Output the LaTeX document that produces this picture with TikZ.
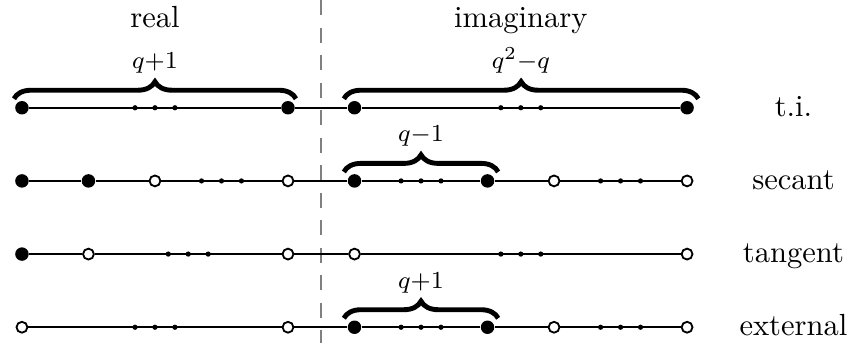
\documentclass[tikz,border=0pt]{standalone}
\usepackage{amsmath}
\usepackage{tikz}
\usetikzlibrary{decorations.pathreplacing}

\begin{document}
\begin{tikzpicture}[x=0.765cm,y=0.765cm,
  full/.style={circle,fill=black,inner sep=0pt,minimum size=0.155cm},
  hollow/.style={circle,draw=black,fill=white,semithick,inner sep=0pt,minimum size=0.125cm},
  dotp/.style={circle,fill=black,inner sep=0pt,minimum size=0.06cm},
  lbl/.style={anchor=base,inner sep=0pt},
  brc/.style={decorate,decoration={brace,amplitude=5.6pt},line width=1.6pt},
  blbl/.style={anchor=base,inner sep=0pt,font=\footnotesize}]
\useasboundingbox (-0.33,-3.53) rectangle (12.48,1.62);
\draw[gray,semithick,dash pattern=on 5pt off 4pt] (4.5,1.62) -- (4.5,-3.53);
\node[lbl] (hreal) at (2,1.2) {real};
\node[lbl] (himag) at (7.5,1.2) {imaginary};
% t.i. row
\node[full] (a0) at (0,0) {};
\node[full] (a1) at (4,0) {};
\node[full] (a2) at (5,0) {};
\node[full] (a3) at (10,0) {};
\node[dotp] (a4) at (1.7,0) {};
\node[dotp] (a5) at (2.0,0) {};
\node[dotp] (a6) at (2.3,0) {};
\node[dotp] (a7) at (7.2,0) {};
\node[dotp] (a8) at (7.5,0) {};
\node[dotp] (a9) at (7.8,0) {};
\draw[semithick] (a0)--(a1)--(a2)--(a3);
\draw[brc] ([shift={(-0.12,0.135)}]a0.center) -- ([shift={(0.12,0.135)}]a1.center);
\draw[brc] ([shift={(-0.16,0.135)}]a2.center) -- ([shift={(0.17,0.135)}]a3.center);
\node[blbl] (la0) at (2,0.59) {$q{+}1$};
\node[blbl] (la1) at (7.5,0.59) {$q^2{-}q$};
\node[lbl] (ta) at (11.6,-0.13) {t.i.};
% secant row
\node[full] (b0) at (0,-1.1) {};
\node[full] (b1) at (1,-1.1) {};
\node[hollow] (b2) at (2,-1.1) {};
\node[hollow] (b3) at (4,-1.1) {};
\node[full] (b4) at (5,-1.1) {};
\node[full] (b5) at (7,-1.1) {};
\node[hollow] (b6) at (8,-1.1) {};
\node[hollow] (b7) at (10,-1.1) {};
\node[dotp] (b8) at (2.7,-1.1) {};
\node[dotp] (b9) at (3.0,-1.1) {};
\node[dotp] (b10) at (3.3,-1.1) {};
\node[dotp] (b11) at (5.7,-1.1) {};
\node[dotp] (b12) at (6.0,-1.1) {};
\node[dotp] (b13) at (6.3,-1.1) {};
\node[dotp] (b14) at (8.7,-1.1) {};
\node[dotp] (b15) at (9.0,-1.1) {};
\node[dotp] (b16) at (9.3,-1.1) {};
\draw[semithick] (b0)--(b1)--(b2)--(b3)--(b4)--(b5)--(b6)--(b7);
\draw[brc] ([shift={(-0.16,0.135)}]b4.center) -- ([shift={(0.16,0.135)}]b5.center);
\node[blbl] (lb0) at (6,-0.51) {$q{-}1$};
\node[lbl] (tb) at (11.6,-1.23) {secant};
% tangent row
\node[full] (c0) at (0,-2.2) {};
\node[hollow] (c1) at (1,-2.2) {};
\node[hollow] (c2) at (4,-2.2) {};
\node[hollow] (c3) at (5,-2.2) {};
\node[hollow] (c4) at (10,-2.2) {};
\node[dotp] (c5) at (2.2,-2.2) {};
\node[dotp] (c6) at (2.5,-2.2) {};
\node[dotp] (c7) at (2.8,-2.2) {};
\node[dotp] (c8) at (7.2,-2.2) {};
\node[dotp] (c9) at (7.5,-2.2) {};
\node[dotp] (c10) at (7.8,-2.2) {};
\draw[semithick] (c0)--(c1)--(c2)--(c3)--(c4);
\node[lbl] (tc) at (11.6,-2.33) {tangent};
% external row
\node[hollow] (d0) at (0,-3.3) {};
\node[hollow] (d1) at (4,-3.3) {};
\node[full] (d2) at (5,-3.3) {};
\node[full] (d3) at (7,-3.3) {};
\node[hollow] (d4) at (8,-3.3) {};
\node[hollow] (d5) at (10,-3.3) {};
\node[dotp] (d6) at (1.7,-3.3) {};
\node[dotp] (d7) at (2.0,-3.3) {};
\node[dotp] (d8) at (2.3,-3.3) {};
\node[dotp] (d9) at (5.7,-3.3) {};
\node[dotp] (d10) at (6.0,-3.3) {};
\node[dotp] (d11) at (6.3,-3.3) {};
\node[dotp] (d12) at (8.7,-3.3) {};
\node[dotp] (d13) at (9.0,-3.3) {};
\node[dotp] (d14) at (9.3,-3.3) {};
\draw[semithick] (d0)--(d1)--(d2)--(d3)--(d4)--(d5);
\draw[brc] ([shift={(-0.16,0.135)}]d2.center) -- ([shift={(0.16,0.135)}]d3.center);
\node[blbl] (ld0) at (6,-2.71) {$q{+}1$};
\node[lbl] (td) at (11.6,-3.43) {external};
\end{tikzpicture}
\end{document}
